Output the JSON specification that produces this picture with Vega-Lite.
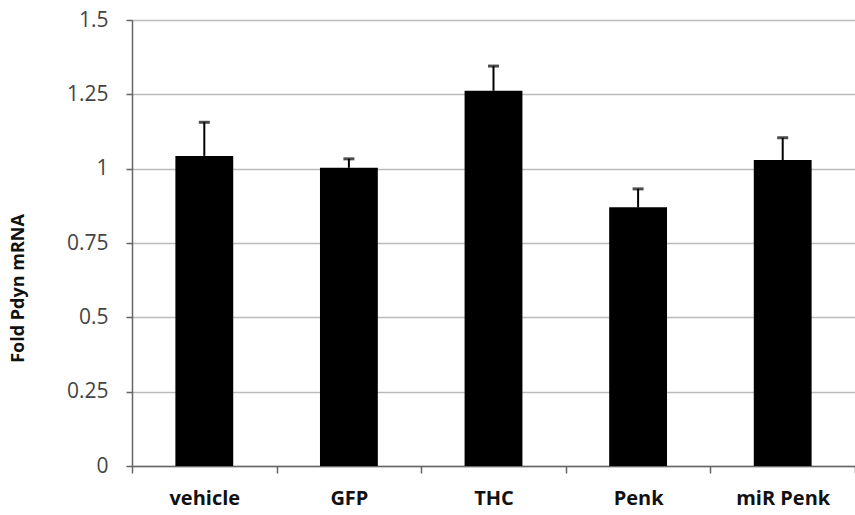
{
  "$schema": "https://vega.github.io/schema/vega-lite/v6.json",
  "width": 723,
  "height": 446,
  "autosize": "none",
  "padding": {"left": 132, "top": 20, "right": 0, "bottom": 49},
  "background": "white",
  "config": {"view": {"stroke": null}, "font": "Open Sans"},
  "data": {"values": [
    {"group": "vehicle", "mean": 1.043, "upper": 1.156},
    {"group": "GFP", "mean": 1.003, "upper": 1.033},
    {"group": "THC", "mean": 1.262, "upper": 1.345},
    {"group": "Penk", "mean": 0.870, "upper": 0.932},
    {"group": "miR Penk", "mean": 1.029, "upper": 1.104}
  ]},
  "encoding": {
    "x": {"field": "group", "type": "nominal", "sort": null,
      "scale": {"paddingInner": 0, "paddingOuter": 0},
      "axis": {"title": null, "labelAngle": 0, "labelFont": "Open Sans", "labelFontWeight": "bold", "labelFontSize": 20, "labelColor": "#111", "labelPadding": 15, "tickBand": "extent", "ticks": true, "tickSize": 7, "tickColor": "#666", "domainColor": "#666", "domainWidth": 1.5, "tickWidth": 1.5}}
  },
  "layer": [
    {"mark": {"type": "bar", "color": "black", "width": {"band": 0.4}},
     "encoding": {"y": {"field": "mean", "type": "quantitative",
       "scale": {"domain": [0, 1.5], "nice": false},
       "axis": {"values": [0, 0.25, 0.5, 0.75, 1, 1.25, 1.5], "labelExpr": "'' + datum.value", "title": "Fold Pdyn mRNA", "titleFont": "Open Sans", "titleFontWeight": "bold", "titleFontSize": 18, "titleColor": "#111", "titleY": 268, "titleX": -114, "titleBaseline": "middle", "titleAnchor": "middle", "labelFontSize": 21, "labelColor": "#444", "labelPadding": 18, "gridColor": "#bbb", "gridWidth": 1.5, "domainColor": "#666", "domainWidth": 1.5, "tickColor": "#666", "tickSize": 6, "tickWidth": 1.5}}}},
    {"mark": {"type": "rule", "color": "black", "strokeWidth": 2},
     "encoding": {"y": {"field": "mean", "type": "quantitative"}, "y2": {"field": "upper"}}},
    {"mark": {"type": "tick", "color": "black", "size": 11, "thickness": 3},
     "encoding": {"y": {"field": "upper", "type": "quantitative"}}}
  ]
}
